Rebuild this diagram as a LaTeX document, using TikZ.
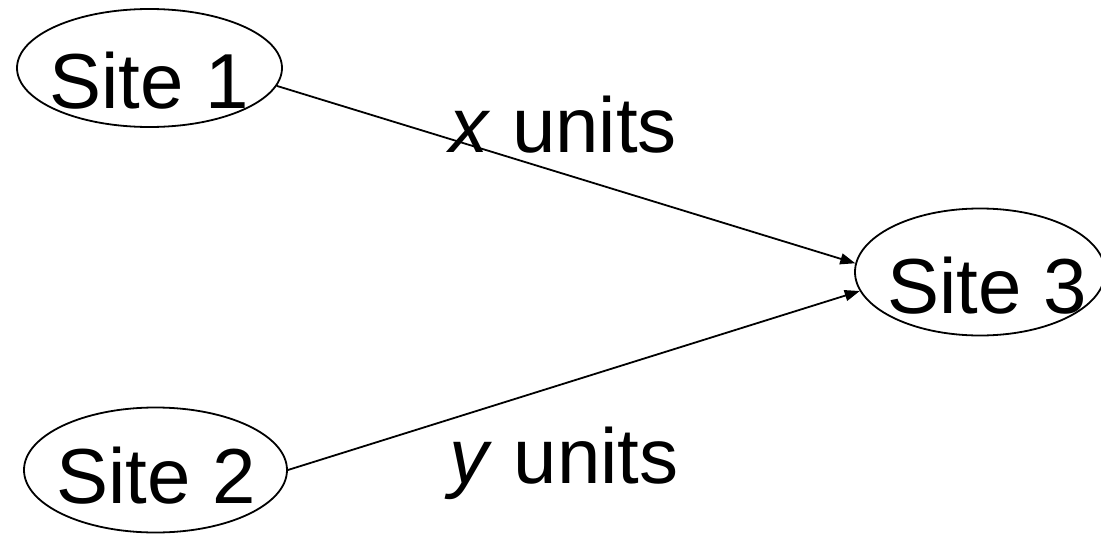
\documentclass[tikz,border=0pt]{standalone}
\usepackage{fontspec}
\setmainfont{Liberation Sans}
\usetikzlibrary{shapes.geometric,arrows.meta}
\begin{document}
\begin{tikzpicture}[x=1pt,y=-1pt,
  site/.style={draw,ellipse,line width=1.8pt,inner sep=0pt,minimum width=#1},
  txt/.style={inner sep=0pt,font=\fontsize{78}{90}\selectfont},
  conn/.style={line width=1.8pt,-{Triangle[length=15pt,width=11pt]}}]
\useasboundingbox (0,0) rectangle (1101,535);
\node[site=265pt,minimum height=118pt] (s1) at (149.5,68) {};
\node[site=263pt,minimum height=125pt] (s2) at (155.5,470) {};
\node[site=250pt,minimum height=127pt] (s3) at (980,272) {};
\node[txt,anchor=base] (t1) at (149,108) {Site 1};
\node[txt,anchor=base] (t2) at (156,503) {Site 2};
\node[txt,anchor=base] (t3) at (987,313) {Site 3};
\draw[conn] (s1.-8.6) -- (s3.176.8);
\draw[conn] (s2.0) -- (s3.-171.4);
\node[txt,anchor=base west] (lx) at (449,152) {\textit{x} units};
\node[txt,anchor=base west] (ly) at (449,483) {\textit{y} units};
\end{tikzpicture}
\end{document}
